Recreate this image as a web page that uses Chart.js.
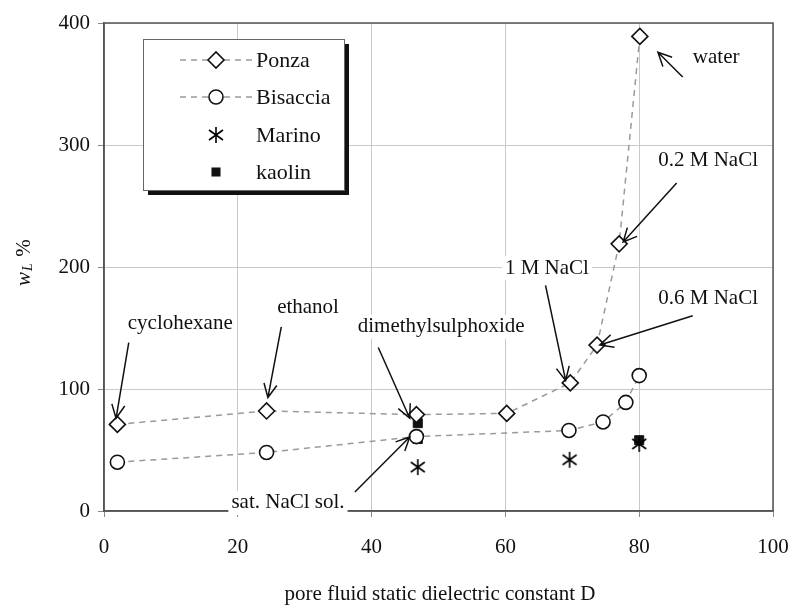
<!DOCTYPE html>
<html>
<head>
<meta charset="utf-8">
<script src="https://cdn.jsdelivr.net/npm/chart.js@4"></script>
<style>
  html, body { margin: 0; padding: 0; background: #fff; }
</style>
</head>
<body>
<canvas id="chart" width="795" height="606"></canvas>
<script>
// values (D, wL %)
const ponzaD = [2.0, 24.3, 46.7, 60.2, 69.7, 73.7, 77.0, 80.1];
const ponzaWL = [71, 82, 79, 80, 105, 136, 219, 389];
const bisacciaD = [2.0, 24.3, 46.7, 69.5, 74.6, 78.0, 80.0];
const bisacciaWL = [40, 48, 61, 66, 73, 89, 111];
const marinoD = [46.9, 69.6, 80.0];
const marinoWL = [36, 42, 55];
const kaolinD = [46.9, 46.9, 80.0];
const kaolinWL = [72, 59, 58];

const seriesNames = ["Ponza", "Bisaccia", "Marino", "kaolin"];
const xTicks = [0, 20, 40, 60, 80, 100];
const yTicks = [0, 100, 200, 300, 400];

// pore fluid labels, with arrow tail/head, all in data units
const noteText = ["cyclohexane", "ethanol", "dimethylsulphoxide", "sat. NaCl sol.",
  "1 M NaCl", "0.6 M NaCl", "0.2 M NaCl", "water"];
const noteAt = [[11.4, 154], [30.5, 167], [50.4, 151], [27.5, 6.6],
  [66.2, 199], [90.3, 174.6], [90.3, 287.7], [91.5, 372]];
const noteFrom = [[3.7, 138], [26.5, 151], [41, 134], [37.5, 15.6],
  [66, 185], [88, 160], [85.6, 268.9], [86.5, 355.7]];
const noteTo = [[1.8, 76], [24.5, 93], [45.7, 76], [45.7, 60.7],
  [69, 107], [74.1, 136], [77.6, 220.5], [82.8, 376]];

const serif = "'Liberation Serif', 'Times New Roman', serif";

// pair up x and y lists
function pts(xs, ys) {
  return xs.map((x, i) => ({ x: x, y: ys[i] }));
}

// asterisk marker for Marino
function asterisk() {
  const c = document.createElement("canvas");
  c.width = 18;
  c.height = 18;
  const g = c.getContext("2d");
  g.strokeStyle = "#000";
  g.lineWidth = 1.6;
  g.beginPath();
  g.moveTo(9, 1); g.lineTo(9, 17);
  g.moveTo(2, 4); g.lineTo(16, 14);
  g.moveTo(2, 14); g.lineTo(16, 4);
  g.stroke();
  return c;
}
const star = asterisk();

const dashGray = "#9a9a9a";

function arrow(ctx, x1, y1, x2, y2) {
  const a = Math.atan2(y2 - y1, x2 - x1);
  const len = 15, spread = 0.45;
  ctx.beginPath();
  ctx.moveTo(x1, y1);
  ctx.lineTo(x2, y2);
  ctx.moveTo(x2 - len * Math.cos(a - spread), y2 - len * Math.sin(a - spread));
  ctx.lineTo(x2, y2);
  ctx.lineTo(x2 - len * Math.cos(a + spread), y2 - len * Math.sin(a + spread));
  ctx.stroke();
}

// frame round the plot area
const framePlugin = {
  id: "frame",
  beforeDatasetsDraw(chart) {
    const a = chart.chartArea, ctx = chart.ctx;
    ctx.save();
    ctx.strokeStyle = "#555";
    ctx.lineWidth = 1.5;
    ctx.strokeRect(a.left, a.top, a.right - a.left, a.bottom - a.top);
    ctx.restore();
  }
};

// arrows, labels, legend and axis titles
const notesPlugin = {
  id: "notes",
  afterDatasetsDraw(chart) {
    const ctx = chart.ctx;
    const xs = chart.scales.x, ys = chart.scales.y;
    ctx.save();
    ctx.font = "21px " + serif;
    ctx.textAlign = "center";
    ctx.textBaseline = "middle";
    ctx.strokeStyle = "#111";
    ctx.lineWidth = 1.5;
    noteText.forEach((t, i) => {
      const px = xs.getPixelForValue(noteAt[i][0]);
      const py = ys.getPixelForValue(noteAt[i][1]);
      const w = ctx.measureText(t).width;
      ctx.fillStyle = "#fff";
      ctx.fillRect(px - w / 2 - 3, py - 12, w + 6, 24);
      ctx.fillStyle = "#111";
      ctx.fillText(t, px, py);
      arrow(ctx,
        xs.getPixelForValue(noteFrom[i][0]), ys.getPixelForValue(noteFrom[i][1]),
        xs.getPixelForValue(noteTo[i][0]), ys.getPixelForValue(noteTo[i][1]));
    });

    // legend box with shadow
    const bx = 143, by = 39, bw = 201, bh = 151;
    ctx.fillStyle = "#111";
    ctx.fillRect(bx + 5, by + 5, bw, bh);
    ctx.fillStyle = "#fff";
    ctx.fillRect(bx, by, bw, bh);
    ctx.strokeStyle = "#666";
    ctx.lineWidth = 1;
    ctx.strokeRect(bx + 0.5, by + 0.5, bw, bh);
    const rows = [60, 97, 135, 172];
    chart.data.datasets.forEach((ds, i) => {
      const y = rows[i];
      if (ds.showLine) {
        ctx.save();
        ctx.strokeStyle = dashGray;
        ctx.lineWidth = 1.5;
        ctx.setLineDash([6, 5]);
        ctx.beginPath();
        ctx.moveTo(180, y);
        ctx.lineTo(252, y);
        ctx.stroke();
        ctx.restore();
      }
      ctx.save();
      ctx.fillStyle = ds.pointBackgroundColor;
      ctx.strokeStyle = ds.pointBorderColor;
      ctx.lineWidth = ds.pointBorderWidth;
      ctx.beginPath();
      if (ds.pointStyle === "rectRot") {
        const r = ds.pointRadius;
        ctx.moveTo(216 - r, y); ctx.lineTo(216, y - r); ctx.lineTo(216 + r, y); ctx.lineTo(216, y + r); ctx.closePath();
        ctx.fill(); ctx.stroke();
      } else if (ds.pointStyle === "circle") {
        ctx.arc(216, y, ds.pointRadius, 0, Math.PI * 2);
        ctx.fill(); ctx.stroke();
      } else if (ds.pointStyle === "rect") {
        const s = Math.SQRT1_2 * ds.pointRadius;
        ctx.fillRect(216 - s, y - s, 2 * s, 2 * s);
      } else {
        ctx.drawImage(star, 216 - 9, y - 9);
      }
      ctx.restore();
      ctx.fillStyle = "#111";
      ctx.textAlign = "left";
      ctx.font = "22px " + serif;
      ctx.fillText(ds.label, 256, y + 1);
    });

    // axis titles
    ctx.font = "21px " + serif;
    ctx.textAlign = "center";
    ctx.fillStyle = "#111";
    ctx.fillText("pore fluid static dielectric constant D", 440, 594);
    ctx.translate(24, 262);
    ctx.rotate(-Math.PI / 2);
    ctx.textAlign = "left";
    ctx.font = "italic 21px " + serif;
    ctx.fillText("w", -24, 0);
    ctx.font = "italic 14px " + serif;
    ctx.fillText("L", -9, 4);
    ctx.font = "21px " + serif;
    ctx.fillText(" %", 0, 0);
    ctx.restore();
  }
};

new Chart(document.getElementById("chart"), {
  type: "scatter",
  data: {
    datasets: [
      {
        label: seriesNames[0],
        data: pts(ponzaD, ponzaWL),
        showLine: true,
        borderColor: dashGray,
        borderWidth: 1.5,
        borderDash: [6, 5],
        tension: 0,
        pointStyle: "rectRot",
        pointRadius: 8,
        pointBackgroundColor: "#fff",
        pointBorderColor: "#111",
        pointBorderWidth: 1.6
      },
      {
        label: seriesNames[1],
        data: pts(bisacciaD, bisacciaWL),
        showLine: true,
        borderColor: dashGray,
        borderWidth: 1.5,
        borderDash: [6, 5],
        tension: 0,
        pointStyle: "circle",
        pointRadius: 7,
        pointBackgroundColor: "#fff",
        pointBorderColor: "#111",
        pointBorderWidth: 1.6
      },
      {
        label: seriesNames[2],
        data: pts(marinoD, marinoWL),
        showLine: false,
        pointStyle: star,
        pointRadius: 8,
        pointBackgroundColor: "#111",
        pointBorderColor: "#111",
        pointBorderWidth: 1.6
      },
      {
        label: seriesNames[3],
        data: pts(kaolinD, kaolinWL),
        showLine: false,
        pointStyle: "rect",
        pointRadius: 6.4,
        pointBackgroundColor: "#111",
        pointBorderColor: "#111",
        pointBorderWidth: 1
      }
    ]
  },
  options: {
    responsive: false,
    animation: false,
    devicePixelRatio: 1,
    layout: { padding: { top: 23, right: 22, left: 0, bottom: 0 } },
    plugins: {
      legend: { display: false },
      tooltip: { enabled: false }
    },
    scales: {
      x: {
        type: "linear",
        min: 0,
        max: 100,
        afterBuildTicks: (s) => { s.ticks = xTicks.map((v) => ({ value: v })); },
        afterFit: (s) => { s.height = 95; s.paddingRight = 0; s.paddingLeft = 0; },
        ticks: { font: { family: serif, size: 21 }, color: "#111", padding: 18 },
        grid: { color: "#c9c9c9", lineWidth: 1, tickLength: 6, tickColor: "#888" },
        border: { color: "#555", width: 1.5 }
      },
      y: {
        type: "linear",
        min: 0,
        max: 400,
        afterBuildTicks: (s) => { s.ticks = yTicks.map((v) => ({ value: v })); },
        afterFit: (s) => { s.width = 104; s.paddingTop = 0; s.paddingBottom = 0; },
        ticks: { font: { family: serif, size: 21 }, color: "#111", padding: 8 },
        grid: { color: "#c9c9c9", lineWidth: 1, tickLength: 6, tickColor: "#888" },
        border: { color: "#555", width: 1.5 }
      }
    }
  },
  plugins: [framePlugin, notesPlugin]
});
</script>
</body>
</html>
